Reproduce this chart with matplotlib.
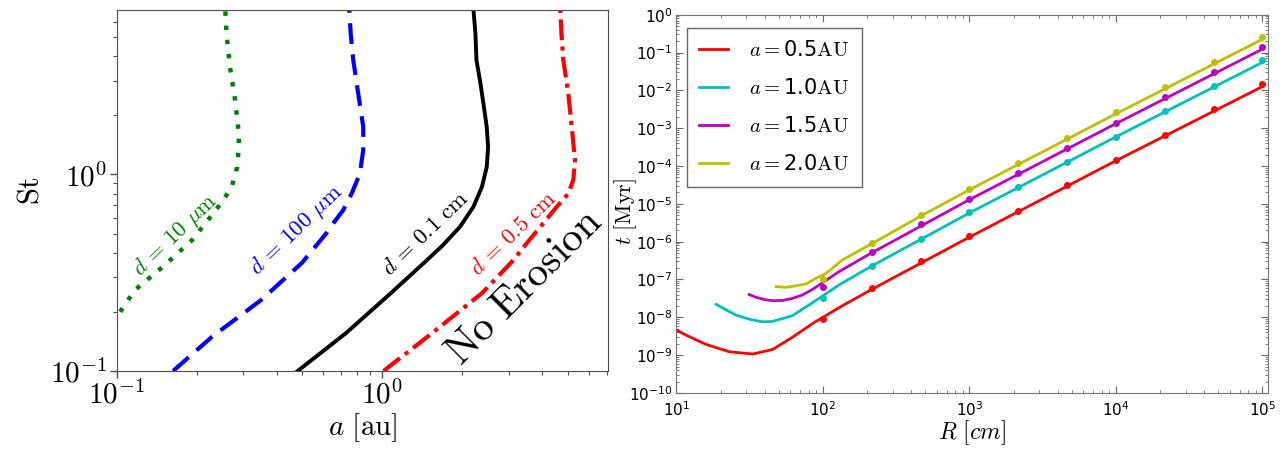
import matplotlib
matplotlib.use('Agg')
import matplotlib.pyplot as plt
import matplotlib.ticker as ticker
from matplotlib import font_manager
import numpy as np

plt.rcParams['mathtext.fontset'] = 'cm'

# ---- left panel: erosion boundaries, (a [au], St)
green_a = [0.103, 0.117, 0.149, 0.192, 0.236, 0.255, 0.271, 0.284, 0.288, 0.288, 0.279, 0.267, 0.259, 0.256]
green_st = [0.20, 0.258, 0.339, 0.463, 0.658, 0.76, 0.865, 1.09, 1.38, 1.62, 2.39, 3.5, 5.2, 7.0]
blue_a = [0.163, 0.228, 0.35, 0.498, 0.616, 0.653, 0.713, 0.766, 0.823, 0.847, 0.847, 0.811, 0.777, 0.76, 0.75]
blue_st = [0.10, 0.149, 0.23, 0.355, 0.503, 0.564, 0.66, 0.80, 1.01, 1.33, 1.75, 2.58, 3.81, 5.2, 7.0]
black_a = [0.48, 0.73, 1.08, 1.47, 1.69, 1.96, 2.20, 2.37, 2.47, 2.50, 2.47, 2.40, 2.33, 2.26, 2.24, 2.20]
black_st = [0.10, 0.156, 0.25, 0.366, 0.437, 0.542, 0.684, 0.865, 1.09, 1.38, 1.75, 2.30, 3.01, 3.81, 5.2, 7.0]
red_a = [1.01, 1.54, 2.38, 3.11, 3.49, 4.03, 4.53, 5.01, 5.23, 5.31, 5.16, 5.01, 4.8, 4.72, 4.67]
red_st = [0.10, 0.156, 0.25, 0.366, 0.446, 0.564, 0.684, 0.80, 0.935, 1.18, 1.75, 2.58, 3.81, 5.2, 7.0]

d_labels = [r'$d\,=\,10\ \mu\mathrm{m}$', r'$d\,=\,100\ \mu\mathrm{m}$',
            r'$d\,=\,0.1\ \mathrm{cm}$', r'$d\,=\,0.5\ \mathrm{cm}$']
d_label_pos = [(0.166, 0.49), (0.475, 0.52), (1.45, 0.50), (3.1, 0.50)]

# ---- right panel: growth time t [Myr] vs radius R [cm]
labels_r = ['0.5', '1.0', '1.5', '2.0']
cols_r = ['r', 'c', 'm', 'y']
line_R = [
    [10, 11.6, 15.8, 22.9, 33.1, 45.3, 61.7, 85.1, 135, 214, 1000, 1e4, 1e5],
    [18.7, 21.8, 25.5, 31.4, 38.7, 45.3, 61.7, 85.1, 129, 214, 1000, 1e4, 1e5],
    [31.4, 34.8, 39.8, 45.3, 53, 61.7, 72.4, 85.1, 129, 214, 1000, 1e4, 1e5],
    [47.8, 55.8, 65.3, 76.4, 89.5, 105, 136, 214, 468, 1000, 1e4, 1e5],
]
line_t = [
    [4.6e-9, 3.4e-9, 1.95e-9, 1.23e-9, 1.07e-9, 1.41e-9, 2.95e-9, 6.9e-9, 2.0e-8, 5.4e-8, 1.32e-6, 1.38e-4, 1.26e-2],
    [2.2e-8, 1.58e-8, 1.15e-8, 8.9e-9, 7.6e-9, 7.8e-9, 1.1e-8, 2.45e-8, 7.2e-8, 2.24e-7, 5.75e-6, 5.9e-4, 5.5e-2],
    [4.0e-8, 3.4e-8, 2.95e-8, 2.75e-8, 2.8e-8, 3.15e-8, 3.9e-8, 5.5e-8, 1.62e-7, 5.0e-7, 1.29e-5, 1.32e-3, 0.123],
    [6.5e-8, 6.2e-8, 6.8e-8, 7.6e-8, 1.07e-7, 1.45e-7, 3.3e-7, 8.7e-7, 4.8e-6, 2.35e-5, 2.4e-3, 0.224],
]
dot_R = [100, 215, 464, 1000, 2154, 4642, 1e4, 21544, 46416, 1e5]
dot_t = [
    [8.9e-9, 5.9e-8, 3.0e-7, 1.4e-6, 6.6e-6, 3.2e-5, 1.45e-4, 6.6e-4, 3.2e-3, 1.5e-2],
    [3.2e-8, 2.3e-7, 1.2e-6, 6.0e-6, 2.75e-5, 1.26e-4, 6.0e-4, 2.8e-3, 1.3e-2, 6.3e-2],
    [6.5e-8, 5.2e-7, 2.95e-6, 1.35e-5, 6.5e-5, 3.0e-4, 1.4e-3, 6.6e-3, 3.1e-2, 0.14],
    [1.02e-7, 9.3e-7, 5.1e-6, 2.45e-5, 1.17e-4, 5.6e-4, 2.6e-3, 1.2e-2, 5.6e-2, 0.26],
]

installed = set(f.name for f in font_manager.fontManager.ttflist)
if 'Liberation Sans Narrow' in installed:
    tick_font, tick_size = 'Liberation Sans Narrow', 13
else:
    tick_font, tick_size = 'DejaVu Sans', 11

fig = plt.figure(figsize=(12.87, 4.5), dpi=100)

# ================= left
ax1 = fig.add_axes([0.0907, 0.1756, 0.3815, 0.803])
ax1.plot(green_a, green_st, color='g', ls=(0, (1, 2.2)), lw=3.2)
ax1.plot(blue_a, blue_st, color='b', ls=(0, (5, 2.5)), lw=3)
ax1.plot(black_a, black_st, color='k', ls='-', lw=2.8)
ax1.plot(red_a, red_st, color='r', ls=(0, (5, 1.5, 1, 1.5)), lw=3)
ax1.set_xscale('log')
ax1.set_yscale('log')
ax1.set_xlim(0.1, 7.05)
ax1.set_ylim(0.1, 6.9)

for lab, (xa, ys), c in zip(d_labels, d_label_pos, ['g', 'b', 'k', 'r']):
    ax1.text(xa, ys, lab, color=c, fontsize=16.5, rotation=44,
             ha='center', va='center', rotation_mode='anchor')
ax1.text(3.42, 0.268, r'$\mathrm{No\ Erosion}$', fontsize=30, rotation=45,
         ha='center', va='center', rotation_mode='anchor')

cm_fmt = ticker.FuncFormatter(lambda v, p: r'$10^{%d}$' % int(round(np.log10(v))))
for axis in (ax1.xaxis, ax1.yaxis):
    axis.set_major_locator(ticker.LogLocator(base=10, numticks=10))
    axis.set_minor_locator(ticker.LogLocator(base=10, subs=np.arange(2, 10), numticks=20))
    axis.set_major_formatter(cm_fmt)
    axis.set_minor_formatter(ticker.NullFormatter())
ax1.tick_params(which='both', direction='out', top=False, right=False, labelsize=21, color='0.3')
ax1.tick_params(which='major', length=5, width=1)
ax1.tick_params(which='minor', length=3, width=0.8)
ax1.tick_params(axis='x', pad=2)
ax1.tick_params(axis='y', pad=2)
for s in ax1.spines.values():
    s.set_color('0.3')
ax1.set_xlabel(r'$a\ [\mathrm{au}]$', fontsize=21, labelpad=1)
ax1.set_ylabel(r'$\mathrm{St}$', fontsize=22, labelpad=4)

# ================= right
ax2 = fig.add_axes([0.5256, 0.1267, 0.4596, 0.8407])
for i in range(4):
    ax2.plot(line_R[i], line_t[i], color=cols_r[i], lw=2,
             label=r'$a=$' + labels_r[i] + r'$\mathrm{AU}$')
    ax2.plot(dot_R, dot_t[i], 'o', color=cols_r[i], ms=4, mec=cols_r[i])
ax2.set_xscale('log')
ax2.set_yscale('log')
ax2.set_xlim(10, 1.09e5)
ax2.set_ylim(1e-10, 1)
for axis, n in ((ax2.xaxis, 10), (ax2.yaxis, 20)):
    axis.set_major_locator(ticker.LogLocator(base=10, numticks=n))
    axis.set_minor_locator(ticker.LogLocator(base=10, subs=np.arange(2, 10), numticks=100))
    axis.set_minor_formatter(ticker.NullFormatter())
ax2.tick_params(which='both', direction='in', top=True, right=True, color='0.4',
                labelsize=tick_size, labelfontfamily=tick_font)
ax2.tick_params(which='major', length=5, width=0.8)
ax2.tick_params(which='minor', length=2.5, width=0.6)
ax2.tick_params(axis='x', pad=5)
ax2.tick_params(axis='y', pad=3)
for s in ax2.spines.values():
    s.set_color('0.45')
ax2.set_xlabel(r'$R\ [cm]$', fontsize=17, labelpad=0)
ax2.set_ylabel(r'$t\ [\mathrm{Myr}]$', fontsize=16)
ax2.yaxis.set_label_coords(-0.064, 0.48)

leg = ax2.legend(loc='upper left', fontsize=15, handlelength=1.4, handletextpad=1.0,
                 labelspacing=0.86, borderpad=0.6, bbox_to_anchor=(0.017, 0.965),
                 fancybox=False, framealpha=1, borderaxespad=0)
leg.get_frame().set_edgecolor('0.4')
leg.get_frame().set_linewidth(1.0)

fig.savefig('out.png', dpi=100)
